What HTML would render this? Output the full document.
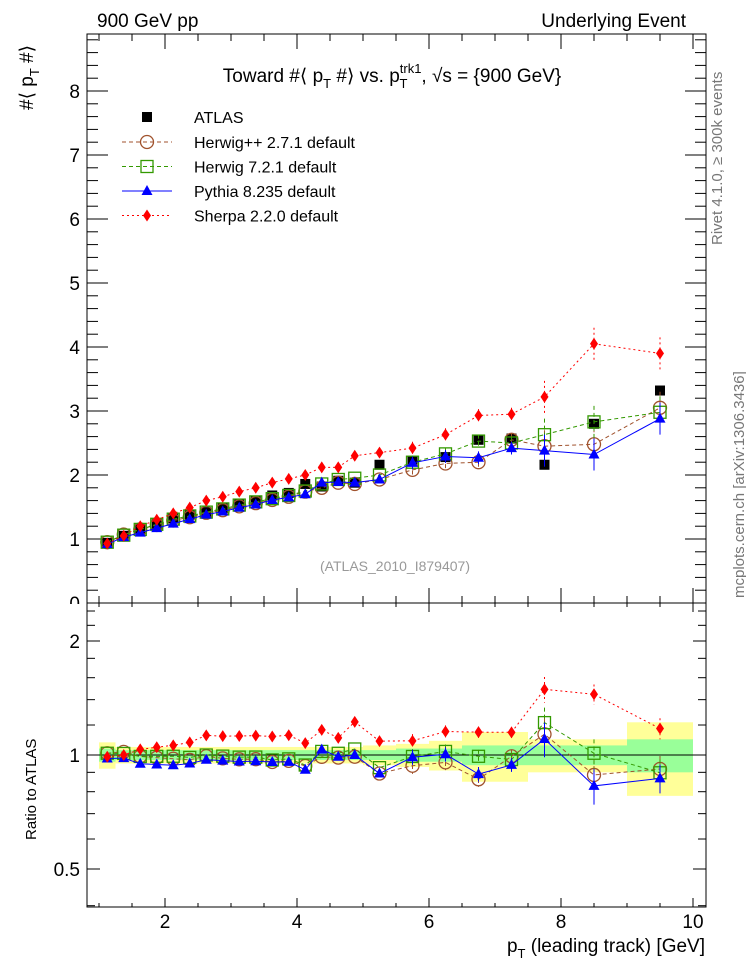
<!DOCTYPE html>
<html><head><meta charset="utf-8"><style>
body{margin:0;background:#fff;font-family:"Liberation Sans",sans-serif;}
svg text{font-family:"Liberation Sans",sans-serif;}
</style></head><body>
<svg id="c" width="746" height="972" xmlns="http://www.w3.org/2000/svg">
<text x="97" y="27" font-size="19">900 GeV pp</text>
<text x="686" y="27" font-size="19" text-anchor="end">Underlying Event</text>
<text x="392" y="82" font-size="19" text-anchor="middle">Toward #⟨ p<tspan font-size="13" dy="6">T</tspan><tspan dy="-6"> #⟩ vs. p</tspan><tspan font-size="13" dy="-9">trk1</tspan><tspan font-size="13" dx="-22" dy="15">T</tspan><tspan dx="14" dy="-6">, √s = {900 GeV}</tspan></text>
<text transform="translate(722,245) rotate(-90)" font-size="15" fill="#777">Rivet 4.1.0, ≥ 300k events</text>
<text transform="translate(744,598) rotate(-90)" font-size="15" fill="#777">mcplots.cern.ch [arXiv:1306.3436]</text>
<text transform="translate(33,110) rotate(-90)" font-size="19">#⟨ p<tspan font-size="13" dy="6">T</tspan><tspan dy="-6"> #⟩</tspan></text>
<text transform="translate(36,840) rotate(-90)" font-size="15">Ratio to ATLAS</text>
<text x="705" y="952" font-size="19" text-anchor="end">p<tspan font-size="13" dy="6">T</tspan><tspan dy="-6"> (leading track) [GeV]</tspan></text>
<text x="395" y="571" font-size="14" fill="#999" text-anchor="middle">(ATLAS_2010_I879407)</text>
<g id="bands"></g><g id="axes"></g><g id="series"></g><g id="legend"></g>
</svg>
<script>
const binEdges=[1,1.25,1.5,1.75,2,2.25,2.5,2.75,3,3.25,3.5,3.75,4,4.25,4.5,4.75,5,5.5,6,6.5,7,7.5,8,9,10];
const atlas=[0.94,1.05,1.16,1.24,1.32,1.38,1.42,1.48,1.55,1.6,1.68,1.72,1.86,1.82,1.91,1.88,2.16,2.22,2.28,2.55,2.57,2.16,2.8,3.32];
const herwigpp=[0.95,1.07,1.15,1.22,1.29,1.34,1.41,1.45,1.51,1.56,1.61,1.66,1.74,1.8,1.88,1.86,1.93,2.08,2.18,2.2,2.55,2.45,2.48,3.05];
const herwig7=[0.95,1.06,1.15,1.23,1.31,1.36,1.42,1.47,1.53,1.58,1.63,1.68,1.75,1.86,1.93,1.95,2.0,2.2,2.33,2.53,2.5,2.63,2.83,2.98];
const pythia=[0.92,1.03,1.1,1.17,1.24,1.31,1.38,1.43,1.49,1.54,1.61,1.65,1.7,1.88,1.89,1.88,1.93,2.19,2.29,2.27,2.42,2.38,2.32,2.88];
const sherpa=[0.93,1.05,1.2,1.3,1.4,1.49,1.6,1.66,1.74,1.8,1.88,1.94,2.0,2.12,2.12,2.3,2.35,2.42,2.63,2.93,2.95,3.22,4.05,3.9];
const statBand=[0.04,0.03,0.03,0.03,0.03,0.03,0.03,0.03,0.03,0.03,0.03,0.03,0.03,0.03,0.03,0.03,0.03,0.04,0.04,0.06,0.06,0.06,0.06,0.1];
const totBand=[0.08,0.05,0.05,0.05,0.05,0.05,0.05,0.05,0.05,0.05,0.05,0.05,0.05,0.05,0.05,0.05,0.06,0.07,0.09,0.15,0.15,0.1,0.1,0.22];
const mainTicks=[0,1,2,3,4,5,6,7,8];
const ratioTicks=[0.5,1,2];
const xTicks=[2,4,6,8,10];
const NS="http://www.w3.org/2000/svg";
const X0=87,X1=706,Y0=34,Y1=603,R0=603,R1=907;
const xs=v=>33+66*v;
const ym=v=>603-64*v;
const yr=v=>755-114*Math.log2(v);
function el(tag,at,parent){const e=document.createElementNS(NS,tag);for(const k in at)e.setAttribute(k,at[k]);parent.appendChild(e);return e;}
const bands=document.getElementById('bands'),axes=document.getElementById('axes'),ser=document.getElementById('series'),leg=document.getElementById('legend');
const centers=binEdges.slice(0,-1).map((e,i)=>(e+binEdges[i+1])/2);
for(let i=0;i<centers.length;i++){
 const a=xs(binEdges[i]),b=xs(binEdges[i+1]);
 let r=el('rect',{x:a,y:yr(1+totBand[i]),width:b-a,height:yr(1-totBand[i])-yr(1+totBand[i]),fill:'#ffff99'},bands);
 
 
 r=el('rect',{x:a,y:yr(1+statBand[i]),width:b-a,height:yr(1-statBand[i])-yr(1+statBand[i]),fill:'#99ff99'},bands);
 
 
}
el('line',{x1:X0,x2:X1,y1:yr(1),y2:yr(1),stroke:'#000','stroke-width':1},bands);
// y tick labels (0 partially covered)
mainTicks.forEach(v=>{const t=el('text',{x:80,y:ym(v)+7,'font-size':19,'text-anchor':'end'},axes);t.textContent=v;
 });
el('rect',{x:40,y:604,width:46,height:20,fill:'#fff'},axes);
let f=el('rect',{x:X0,y:Y0,width:X1-X0,height:Y1-Y0,fill:'none',stroke:'#000'},axes);

f=el('rect',{x:X0,y:R0,width:X1-X0,height:R1-R0,fill:'none',stroke:'#000'},axes);

for(let k=0;k<=44;k++){const v=k*0.2;const y=ym(v);const maj=k%5===0;const L=maj?21:11;
 el('line',{x1:X0,x2:X0+L,y1:y,y2:y,stroke:'#000'},axes);el('line',{x1:X1,x2:X1-L,y1:y,y2:y,stroke:'#000'},axes);}
[0.4,0.5,0.6,0.7,0.8,0.9,1,1.2,1.4,1.6,1.8,2,2.2,2.4].forEach(v=>{const y=yr(v);const maj=ratioTicks.includes(v);const L=maj?13:8;
 el('line',{x1:X0,x2:X0+L,y1:y,y2:y,stroke:'#000'},axes);el('line',{x1:X1,x2:X1-L,y1:y,y2:y,stroke:'#000'},axes);});
ratioTicks.forEach(v=>{const t=el('text',{x:80,y:yr(v)+7,'font-size':19,'text-anchor':'end'},axes);t.textContent=v;
 });
for(let k=2;k<=20;k++){const v=k*0.5;const x=xs(v);const maj=k%4===0;
 const Lm=maj?15:7,Lr=maj?9:4;
 el('line',{x1:x,x2:x,y1:Y1,y2:Y1-Lm,stroke:'#000'},axes);el('line',{x1:x,x2:x,y1:Y0,y2:Y0+Lm,stroke:'#000'},axes);
 el('line',{x1:x,x2:x,y1:R1,y2:R1-Lr,stroke:'#000'},axes);el('line',{x1:x,x2:x,y1:R0,y2:R0+Lr,stroke:'#000'},axes);}
xTicks.forEach(v=>{const t=el('text',{x:xs(v),y:928,'font-size':19,'text-anchor':'middle'},axes);t.textContent=v;
 });
function marker(g,shape,x,y,color){
 if(shape==='sq')return el('rect',{x:x-5,y:y-5,width:10,height:10,fill:'#000'},g);
 if(shape==='osq')return el('rect',{x:x-6,y:y-6,width:12,height:12,fill:'none',stroke:color,'stroke-width':1.3},g);
 if(shape==='oc')return el('circle',{cx:x,cy:y,r:6.5,fill:'none',stroke:color,'stroke-width':1.3},g);
 if(shape==='tri')return el('polygon',{points:`${x},${y-6} ${x-5.5},${y+4} ${x+5.5},${y+4}`,fill:color},g);
 if(shape==='dia')return el('polygon',{points:`${x},${y-6} ${x-4},${y} ${x},${y+6} ${x+4},${y}`,fill:color},g);
}
const series=[
 {name:'herwigpp',vals:herwigpp,color:'#a0522d',shape:'oc',dash:'4,3',label:'Herwig++ 2.7.1 default'},
 {name:'herwig7',vals:herwig7,color:'#339900',shape:'osq',dash:'4,3',label:'Herwig 7.2.1 default'},
 {name:'pythia',vals:pythia,color:'#0000ff',shape:'tri',dash:'',label:'Pythia 8.235 default'},
 {name:'sherpa',vals:sherpa,color:'#ff0000',shape:'dia',dash:'2,3',label:'Sherpa 2.2.0 default'}];
atlas.forEach((v,i)=>{const m=marker(ser,'sq',xs(centers[i]),ym(v));});
series.forEach(s=>{
 const g=el('g',{},ser);
 
 
 const pm=s.vals.map((v,i)=>xs(centers[i])+','+ym(v)).join(' ');
 el('polyline',{points:pm,fill:'none',stroke:s.color,'stroke-width':1,'stroke-dasharray':s.dash},g);
 const pr=s.vals.map((v,i)=>xs(centers[i])+','+yr(v/atlas[i])).join(' ');
 el('polyline',{points:pr,fill:'none',stroke:s.color,'stroke-width':1,'stroke-dasharray':s.dash},g);
 s.vals.forEach((v,i)=>{
  const x=xs(centers[i]);
  if(i>=17){const e=i>=21?0.25:0.1;
   el('line',{x1:x,x2:x,y1:ym(v+e),y2:ym(v-e),stroke:s.color,'stroke-dasharray':s.dash},g);
   el('line',{x1:x,x2:x,y1:yr((v+e)/atlas[i]),y2:yr((v-e)/atlas[i]),stroke:s.color,'stroke-dasharray':s.dash},g);}
  let m=marker(g,s.shape,x,ym(v),s.color);
  
  
  m=marker(g,s.shape,x,yr(v/atlas[i]),s.color);
  
  
 });
});
let lm=marker(leg,'sq',147,117,'#000');
let lt=el('text',{x:194,y:123,'font-size':16},leg);lt.textContent='ATLAS';

series.forEach((s,i)=>{const y=142+24.5*i;
 el('line',{x1:122,x2:172,y1:y,y2:y,stroke:s.color,'stroke-dasharray':s.dash},leg);
 const m=marker(leg,s.shape,147,y,s.color);
 
 
 const t=el('text',{x:194,y:y+6,'font-size':16},leg);t.textContent=s.label;
 
 });
</script>
</body></html>
